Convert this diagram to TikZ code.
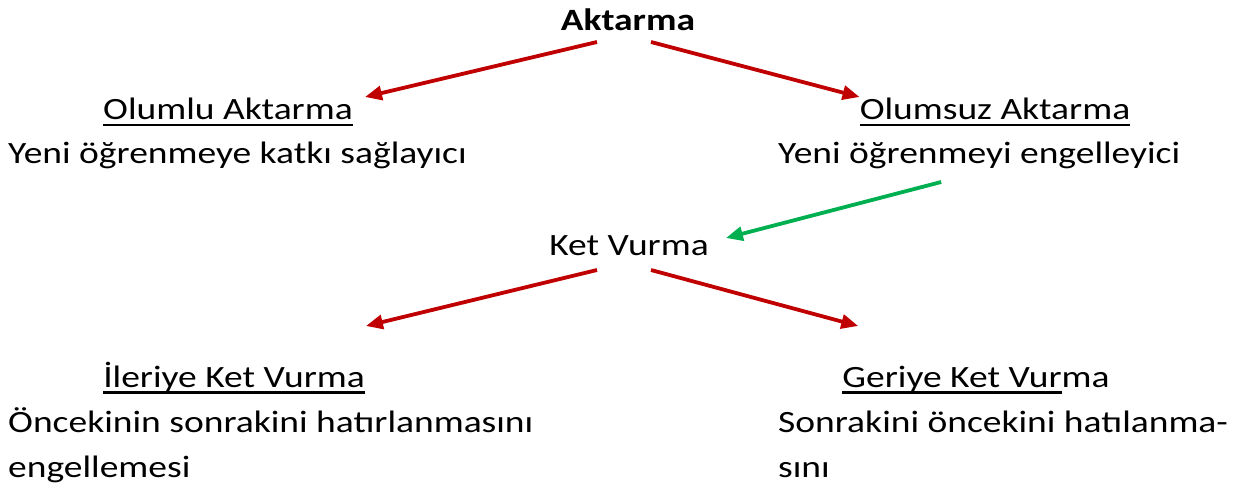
\documentclass[tikz,border=0pt]{standalone}
\usepackage{fontspec}
\setmainfont[FakeStretch=1.21]{Carlito}
\usetikzlibrary{arrows.meta,calc}
\definecolor{arrred}{HTML}{C00000}
\definecolor{arrgreen}{HTML}{00B050}
\newsavebox\ulbox
\newcommand{\uln}[1]{\sbox\ulbox{#1}\rlap{\rule[-6.5pt]{\wd\ulbox}{2.8pt}}\usebox\ulbox}

\begin{document}
\begin{tikzpicture}
[x=1pt,y=-1pt,
every node/.style={inner sep=0pt,font=\fontsize{31}{45}\selectfont},
head/.style={anchor=base},
desc/.style={anchor=base west,align=left},
link/.style={line width=3.8pt,arrred,-{Triangle[length=17pt,width=14pt]}},
green link/.style={link,arrgreen}]

\useasboundingbox (0,0) rectangle (1243,492);

\node[head,font=\fontsize{31}{45}\selectfont\bfseries] (akt) at (628,31) {Aktarma};

\node[head] (olumlu) at (228,120) {\uln{Olumlu Aktarma}};
\node[desc] (olumluD) at (8,164) {Yeni öğrenmeye katkı sağlayıcı};

\node[head] (olumsuz) at (995,120) {\uln{Olumsuz Aktarma}};
\node[desc] (olumsuzD) at (778,164) {Yeni öğrenmeyi engelleyici};

\node[head] (ket) at (629,255) {Ket Vurma};

\node[head] (ileri) at (234,387) {\uln{İleriye Ket Vurma}};
% last line sits on the given baseline
\node[desc] (ileriD) at (8,477) {Öncekinin sonrakini hatırlanmasını\\engellemesi};

\node[head] (geri) at (976,387) {\uln{Geriye Ket Vur}ma};
\node[desc] (geriD) at (778,477) {Sonrakini öncekini hatılanma-\\sını};

\draw[link] ($(akt.base)+(-31,11)$) -- ($(olumlu.base east)+(12,-23)$);
\draw[link] ($(akt.base)+(23,11)$) -- ($(olumsuz.base west)+(0,-23)$);
\draw[green link] ($(olumsuzD.base)+(-38,18)$) -- ($(ket.base east)+(17,-17)$);
\draw[link] ($(ket.base)+(-32,15)$) -- ($(ileri.base east)+(1,-61)$);
\draw[link] ($(ket.base)+(22,15)$) -- ($(geri.base west)+(16,-61)$);
\end{tikzpicture}
\end{document}
